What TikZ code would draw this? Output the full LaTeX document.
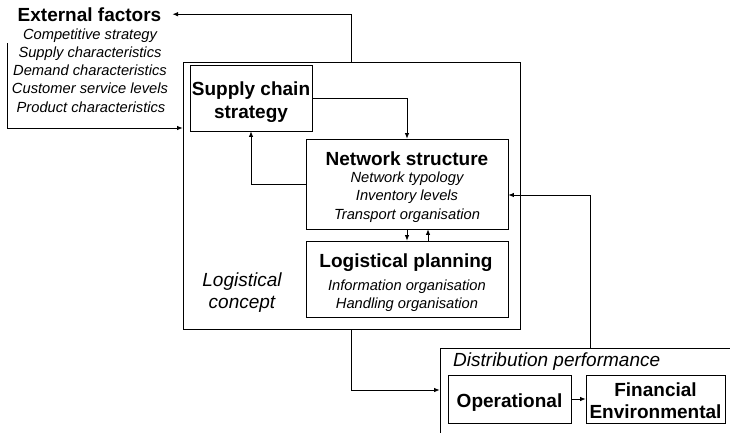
\documentclass[tikz,border=0pt]{standalone}
\usepackage{fontspec}
\setmainfont{Liberation Sans}
\usetikzlibrary{arrows.meta,calc}
\begin{document}
\begin{tikzpicture}[x=1pt,y=-1pt,
  box/.style={draw,line width=0.8pt,rectangle,inner sep=0pt},
  arr/.style={-{Latex[length=5.5pt,width=4.5pt]},line width=0.8pt},
  tb/.style={inner sep=0pt,anchor=base,font=\fontsize{19}{22}\selectfont\bfseries},
  ti/.style={inner sep=0pt,anchor=base,font=\fontsize{14.7}{18}\selectfont\itshape},
  tbi/.style={inner sep=0pt,anchor=base,font=\fontsize{19}{22}\selectfont\itshape}]
\useasboundingbox (0,0) rectangle (730,432);
% boxes
\node[box,minimum width=337pt,minimum height=267pt] (lc) at (351.5,195.5) {};
\node[box,minimum width=122pt,minimum height=66pt] (scs) at (251,98) {};
\node[box,minimum width=202pt,minimum height=90pt] (ns) at (407,184) {};
\node[box,minimum width=202pt,minimum height=76pt] (lp) at (407,279) {};
\node[box,minimum width=300pt,minimum height=92pt] (dp) at (590,394) {};
\node[box,minimum width=123pt,minimum height=48pt] (op) at (509.5,399) {};
\node[box,minimum width=139pt,minimum height=48pt] (fe) at (655.5,399) {};
% texts
\node[tb] (extT) at (89.5,21) {External factors};
\node[ti] (ext1) at (90,39) {Competitive strategy};
\node[ti] (ext2) at (90,57.3) {Supply characteristics};
\node[ti] (ext3) at (90,75.6) {Demand characteristics};
\node[ti] (ext4) at (90,93.9) {Customer service levels};
\node[ti] (ext5) at (91,112.2) {Product characteristics};
\node[tb] (scs1) at (251,95) {Supply chain};
\node[tb] (scs2) at (251,118) {strategy};
\node[tb] (nsT) at (407,165) {Network structure};
\node[ti] (ns1) at (407,182) {Network typology};
\node[ti] (ns2) at (407,200.5) {Inventory levels};
\node[ti] (ns3) at (407,219) {Transport organisation};
\node[tb] (lpT) at (406,267) {Logistical planning};
\node[ti] (lp1) at (407,290) {Information organisation};
\node[ti] (lp2) at (407,308) {Handling organisation};
\node[tbi] (lc1) at (242,286) {Logistical};
\node[tbi] (lc2) at (242,308) {concept};
\node[tbi,anchor=base west] (dpT) at (453,366) {Distribution performance};
\node[tb] (opT) at (509.5,407) {Operational};
\node[tb] (fe1) at (655.5,396) {Financial};
\node[tb] (fe2) at (655.5,418.5) {Environmental};
% connectors
\coordinate (in1) at (7,43);
\draw[arr] (lc.north) |- ($(extT.east)+(11,0)$);
\draw[arr] (in1) |- (lc.west |- 0,128);
\draw[arr] (scs.east) -| (ns.north);
\draw[arr] (ns.west) -| (scs.south);
\draw[arr] (ns.south) -- (lp.north);
\draw[arr] (lp.north -| 428,0) -- (ns.south -| 428,0);
\draw[arr] (lc.south) |- (dp.west |- 0,390);
\draw[arr] (dp.north) |- (ns.east |- 0,195);
\draw[arr] (op.east) -- (fe.west);
\end{tikzpicture}
\end{document}
